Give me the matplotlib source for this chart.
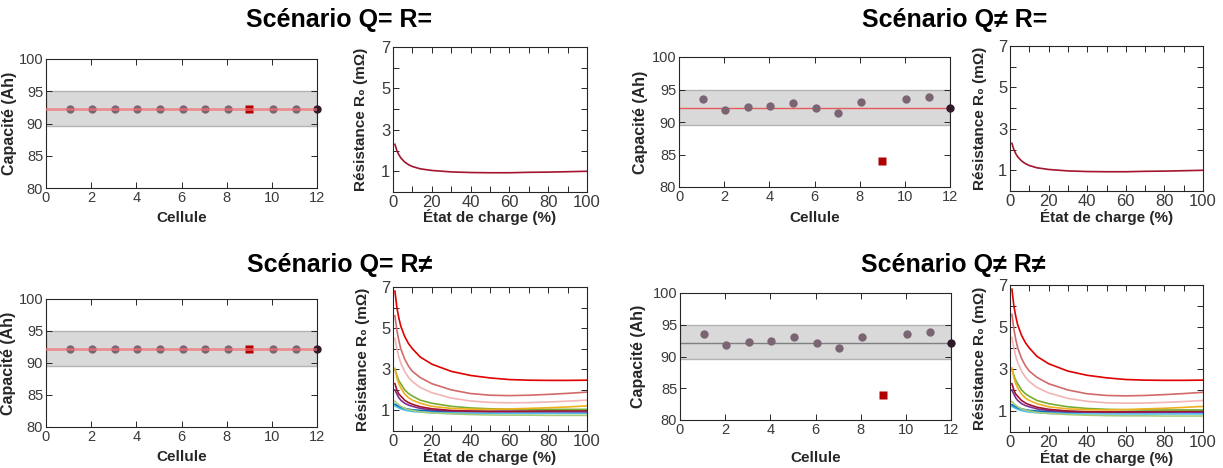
import numpy as np
import matplotlib
matplotlib.use("Agg")
import matplotlib.pyplot as plt

plt.rcParams['font.family'] = ['Liberation Sans', 'DejaVu Sans']

#==========================================================
# data
#==========================================================
cells = [1, 2, 3, 4, 5, 6, 7, 8, 9, 10, 11, 12]
cap_equal = [92.2, 92.2, 92.2, 92.2, 92.2, 92.2, 92.2, 92.2, 92.2, 92.2, 92.2, 92.2]
cap_diff = [93.6, 91.8, 92.35, 92.5, 93.0, 92.1, 91.35, 93.1, 84.0, 93.5, 93.9, 92.2]
cap_mean = 92.2
cap_band = [89.55, 95.0]
faulty_cell = 9

soc = [1, 2, 3, 4, 6, 8, 10, 14, 20, 30, 40, 50, 60, 70, 80, 90, 100]
r0_ref = [2.3, 2.0, 1.8, 1.65, 1.45, 1.32, 1.23, 1.12, 1.04, 0.97, 0.94, 0.93, 0.93, 0.95, 0.96, 0.98, 1.0]

r0_cells = {
    '#e00000': [6.8, 6.0, 5.5, 5.1, 4.6, 4.25, 4.0, 3.6, 3.25, 2.9, 2.7, 2.58, 2.5, 2.47, 2.46, 2.46, 2.47],
    '#d26a6a': [5.6, 4.9, 4.4, 4.0, 3.5, 3.15, 2.9, 2.6, 2.3, 2.0, 1.82, 1.74, 1.72, 1.74, 1.78, 1.83, 1.89],
    '#f2b4b4': [4.5, 4.0, 3.6, 3.3, 2.9, 2.6, 2.4, 2.12, 1.86, 1.6, 1.46, 1.39, 1.37, 1.38, 1.41, 1.45, 1.5],
    '#edb120': [3.05, 2.6, 2.3, 2.1, 1.8, 1.62, 1.5, 1.35, 1.2, 1.1, 1.06, 1.05, 1.07, 1.1, 1.13, 1.17, 1.22],
    '#77ac30': [3.0, 2.7, 2.45, 2.3, 2.0, 1.82, 1.7, 1.5, 1.35, 1.2, 1.12, 1.08, 1.06, 1.05, 1.05, 1.05, 1.05],
    '#a2142f': [2.3, 2.0, 1.8, 1.7, 1.5, 1.38, 1.3, 1.18, 1.08, 1.0, 0.97, 0.96, 0.96, 0.97, 0.98, 0.99, 1.0],
    '#7e2f8e': [2.0, 1.8, 1.62, 1.5, 1.35, 1.26, 1.2, 1.1, 1.02, 0.97, 0.95, 0.94, 0.94, 0.94, 0.94, 0.94, 0.94],
    '#a6cc7a': [1.45, 1.35, 1.27, 1.2, 1.1, 1.04, 1.0, 0.93, 0.88, 0.83, 0.8, 0.78, 0.77, 0.77, 0.76, 0.76, 0.76],
    '#0072bd': [1.3, 1.25, 1.2, 1.15, 1.1, 1.06, 1.03, 1.0, 0.97, 0.95, 0.95, 0.95, 0.95, 0.95, 0.95, 0.95, 0.95],
    '#4dbeee': [1.22, 1.17, 1.12, 1.08, 1.02, 0.98, 0.95, 0.92, 0.89, 0.87, 0.86, 0.86, 0.86, 0.86, 0.86, 0.86, 0.86],
}

titles = ["Scénario Q= R=", "Scénario Q≠ R=", "Scénario Q= R≠", "Scénario Q≠ R≠"]

#==========================================================
# helpers
#==========================================================
W, H = 1223.0, 468.0
fig = plt.figure(figsize=(W/100, H/100), dpi=100)

def add_ax(l, t, r, b):
    return fig.add_axes([l/W, 1-b/H, (r-l)/W, (b-t)/H])

def style(ax, size):
    for s in ax.spines.values():
        s.set_color('#262626')
        s.set_linewidth(0.8)
    ax.tick_params(which='both', direction='in', top=True, right=True,
                   length=4, width=0.7, color='#262626',
                   labelsize=size, labelcolor='#3a3a3a', pad=2)

def cap_panel(box, vals, line_color, lw, alpha, on_top, ylab_x, xlab_y):
    l, t, r, b = box
    ax = add_ax(l, t, r, b)
    style(ax, 10.5)
    ax.axhspan(cap_band[0], cap_band[1], facecolor='#d9d9d9',
               edgecolor='#b3b3b3', lw=1, zorder=1)
    ax.axhline(cap_mean, color=line_color, lw=lw, alpha=alpha,
               zorder=4 if on_top else 2)
    for c, v in zip(cells, vals):
        if c == faulty_cell:
            ax.plot(c, v, 's', ms=5.5, color='#b00000', mec='none', zorder=3)
        elif c == cells[-1]:
            ax.plot(c, v, 'o', ms=6, color='#2e1a28', mec='none', zorder=3,
                    clip_on=False)
        else:
            ax.plot(c + 0.05, v, 'o', ms=6, color='#7b6474', mec='none', zorder=3)
    ax.set_xlim(0, 12)
    ax.set_ylim(80, 100)
    ax.set_xticks(range(0, 13, 2))
    ax.set_yticks(range(80, 101, 5))
    ax.set_ylabel("Capacité (Ah)", fontsize=11.5, fontweight='bold', color='#262626')
    ax.set_xlabel("Cellule", fontsize=11, fontweight='bold', color='#262626', va='center')
    ax.yaxis.set_label_coords((ylab_x - l)/(r - l), 0.5)
    ax.xaxis.set_label_coords(0.5, (b - xlab_y)/(b - t))
    return ax

def res_panel(box, curves, ylab_x, xlab_y):
    l, t, r, b = box
    ax = add_ax(l, t, r, b)
    style(ax, 12)
    for col, vals in curves:
        ax.plot(soc, vals, color=col, lw=1.2)
    ax.set_xlim(0, 100)
    ax.set_ylim(0, 7)
    ax.set_xticks(range(0, 101, 10))
    ax.set_xticklabels([str(v) if v % 20 == 0 else '' for v in range(0, 101, 10)])
    ax.set_yticks(range(0, 8))
    ax.set_yticklabels([str(v) if v % 2 == 1 else '' for v in range(0, 8)])
    ax.set_ylabel("Résistance R₀ (mΩ)", fontsize=11, fontweight='bold', color='#262626')
    ax.set_xlabel("État de charge (%)", fontsize=11, fontweight='bold', color='#262626', va='center')
    ax.yaxis.set_label_coords((ylab_x - l)/(r - l), 0.5)
    ax.xaxis.set_label_coords(0.5, (b - xlab_y)/(b - t))
    return ax

#==========================================================
# panels
#==========================================================
cap_panel((46, 59, 317, 188), cap_equal, '#f07070', 2.0, 0.7, True, 17, 218)
cap_panel((679, 57, 950, 187), cap_diff, '#e85a5a', 1.0, 1.0, False, 648, 218)
cap_panel((46, 299, 317, 427), cap_equal, '#f07070', 2.0, 0.7, True, 16, 457)
cap_panel((680, 293, 951, 420), cap_diff, '#808080', 1.0, 1.0, False, 646, 458)

res_panel((393, 47, 587, 192), [('#a2142f', r0_ref)], 368, 217)
res_panel((1010, 46, 1203, 191), [('#a2142f', r0_ref)], 987, 217)
many = list(r0_cells.items())[::-1]
res_panel((393, 287, 587, 431), many, 370, 457)
res_panel((1010, 285, 1203, 432), many, 987, 458)

for txt, (x, y) in zip(titles, [(339, 20), (955, 20), (340, 265), (953, 265)]):
    fig.text(x/W, 1-y/H, txt, fontsize=18, fontweight='bold',
             ha='center', va='center', color='black')

fig.savefig("out.png", dpi=100)
